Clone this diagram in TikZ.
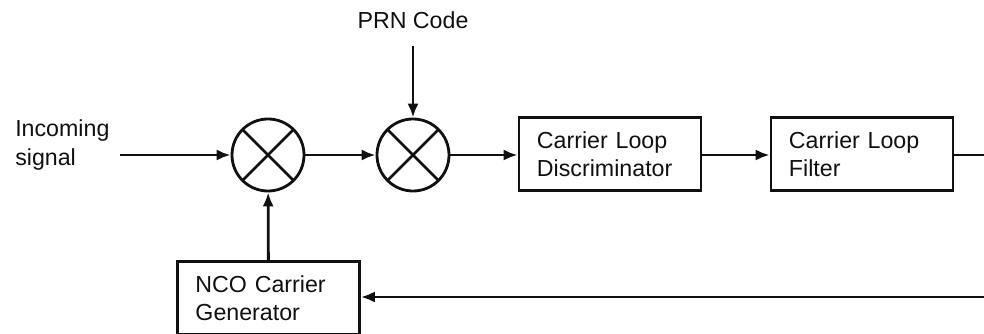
\documentclass[tikz,border=0pt]{standalone}
\usepackage{fontspec}
\setmainfont{Liberation Sans}
\usetikzlibrary{arrows.meta,positioning,calc}
\definecolor{Ink}{HTML}{101010}

\begin{document}
\begin{tikzpicture}[x=0.025cm,y=-0.025cm,>={Latex[length=10pt,width=8pt]},every node/.style={font=\fontsize{16.5}{20}\selectfont,text=Ink},flow/.style={->,line width=2pt,draw=Ink},blockbox/.style={draw=Ink,line width=2pt,minimum width=4.55cm,minimum height=1.825cm,inner xsep=0.45cm,text width=3.65cm,align=left},mixer/.style={circle,draw=Ink,line width=2pt,minimum size=1.8cm,inner sep=0pt,path picture={\draw[line width=2pt,draw=Ink](path picture bounding box.north west)--(path picture bounding box.south east)(path picture bounding box.north east)--(path picture bounding box.south west);}}]
\useasboundingbox (0,0) rectangle (984,334);
\node[anchor=west,align=left,inner sep=0pt] (insig) at (15,145){Incoming\\signal};
\node[mixer] (mixA) at (268,155){};
\node[mixer] (mixB) at (413,155){};
\node (prn) at (413,20){PRN Code};
\node[blockbox] (disc) at (610,154){Carrier Loop\\Discriminator};
\node[blockbox] (filt) at (862,154){Carrier Loop\\Filter};
\node[blockbox] (nco) at (268.5,298){NCO Carrier\\Generator};
\coordinate (outR) at (984,155);
\coordinate (inR) at (984,297);
% forward path
\draw[flow]($(insig.east|-mixA.west)+(10,0)$)--(mixA.west);
\draw[flow](mixA)--(mixB);
\draw[flow,shorten <=9pt](prn)--(mixB);
\draw[flow](mixB.east)--(mixB.east-|disc.west);
\draw[flow](disc.east|-outR)--(filt.west|-outR);
\draw[line width=2pt,draw=Ink](filt.east|-outR)--(outR);
% feedback
\draw[flow](inR)--(nco.east|-inR);
\draw[flow](nco)--(mixA);
\end{tikzpicture}
\end{document}
